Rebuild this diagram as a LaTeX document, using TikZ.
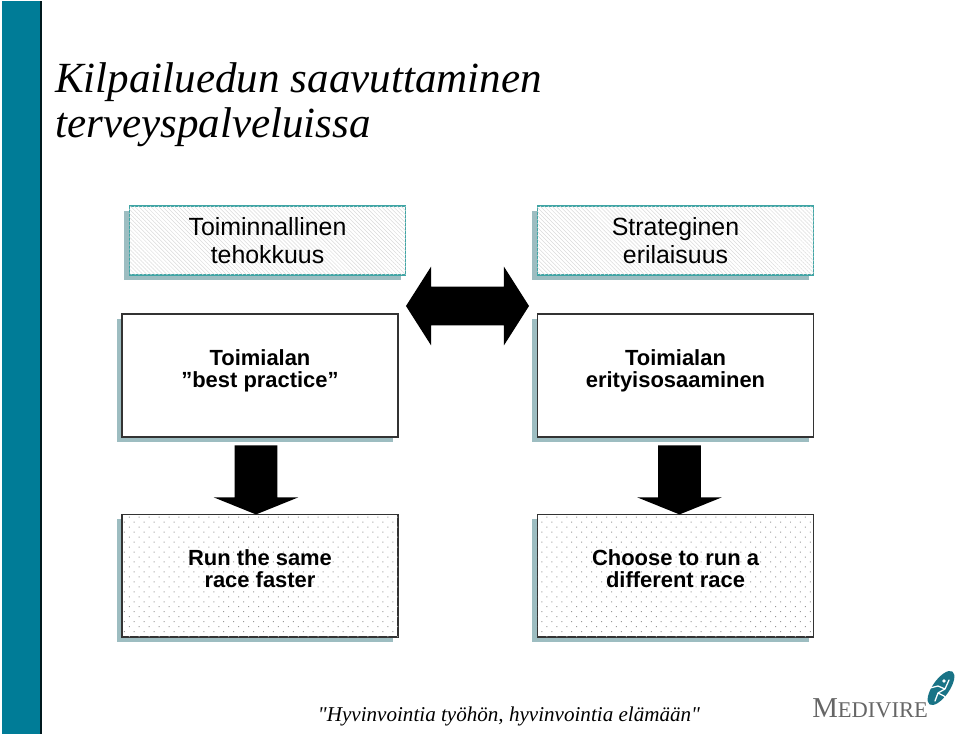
\documentclass[tikz,border=0pt]{standalone}
\usepackage{fontspec}
\setmainfont{Liberation Sans}
\newfontfamily\serifface{Liberation Serif}
\usetikzlibrary{positioning,calc,patterns.meta,shadows,shapes.arrows,shapes.geometric}
\definecolor{barteal}{HTML}{007C97}
\definecolor{edgeteal}{HTML}{3FA5A5}
\definecolor{shadowteal}{HTML}{9DBDC1}
\begin{document}
\begin{tikzpicture}[x=0.025cm,y=-0.025cm,
    boxbase/.style={minimum width=6.9cm,align=center,inner sep=0pt,drop shadow={shadow xshift=-0.125cm,shadow yshift=-0.125cm,fill=shadowteal,opacity=1}},
    hatchbox/.style={boxbase,draw=edgeteal,line width=1pt,minimum height=1.72cm,fill=white,font=\fontsize{17.7}{19.9}\selectfont,postaction={pattern={Lines[angle=-45,distance=2pt,line width=0.35pt]},pattern color=black!14}},
    plainbox/.style={boxbase,draw=black!80,line width=1pt,minimum height=3.07cm,fill=white,font=\fontsize{15.6}{15.6}\selectfont\bfseries,execute at begin node=\strut,text depth=10.4pt},
    dotbox/.style={plainbox,postaction={pattern={Dots[angle=45,distance=5pt,radius=0.5pt]},pattern color=black!40}},
    downarrow/.style={single arrow,rotate=-90,fill=black,inner xsep=0pt,inner ysep=0.525cm,minimum height=1.725cm,minimum width=2.1cm,single arrow head extend=0.525cm,single arrow tip angle=136},
    bothways/.style={double arrow,fill=black,inner xsep=0pt,inner ysep=0.475cm,minimum height=3.075cm,minimum width=1.95cm,double arrow head extend=0.5cm,double arrow tip angle=115},
    titleline/.style={anchor=base west,inner sep=0pt,font=\serifface\itshape\fontsize{30.6}{32}\selectfont}]
    \useasboundingbox (0,0) rectangle (960,736);
    \fill[barteal] (2,1) rectangle (40,734);
    \fill[black!80!barteal] (40,1) rectangle (42,734);
    \node[titleline] (titleone) at (55,92.5) {Kilpailuedun saavuttaminen};
    \node[titleline] (titletwo) at (55,138) {terveyspalveluissa};
    \node[hatchbox] (tehokkuus) at (267.5,240.5) {Toiminnallinen\\tehokkuus};
    \node[hatchbox] (erilaisuus) at (675.5,240.5) {Strateginen\\erilaisuus};
    \node[plainbox] (practice) at (260,375.5) {Toimialan\\”best practice”};
    \node[plainbox,right=3.45cm of practice] (osaaminen) {Toimialan\\erityisosaaminen};
    \node[dotbox,below=1.9cm of practice] (faster) {Run the same\\race faster};
    \node[dotbox,below=1.9cm of osaaminen] (different) {Choose to run a\\different race};
    \node[bothways] (vastakkain) at (467.5,306) {};
    \node[downarrow] (leftdown) at ($(practice.south)!0.5!(faster.north)+(-4,0)$) {};
    \node[downarrow] (rightdown) at ($(osaaminen.south)!0.5!(different.north)+(4,0)$) {};
    \node[anchor=base,inner sep=0pt,font=\serifface\itshape\fontsize{15}{16}\selectfont] (motto) at (509,721) {"Hyvinvointia työhön, hyvinvointia elämään"};
    \node[anchor=base west,inner sep=0pt,text=black!60,font=\serifface] (medivire) at (812,717) {\fontsize{20.5}{24}\selectfont M\fontsize{16}{24}\selectfont EDIVIRE};
    \node[ellipse,fill=barteal!80!black!90,inner sep=0pt,minimum width=1cm,minimum height=0.42cm,rotate=55] (runner) at (941,688) {};
    \draw[white,line width=0.9pt,line cap=round] (935,701) -- (938,693) -- (945,689) -- (949,680) (930,688) -- (938,686) -- (945,689) (938,693) -- (944,696) -- (947,700);
    \fill[white] (944,681) circle (1.8);
\end{tikzpicture}
\end{document}
